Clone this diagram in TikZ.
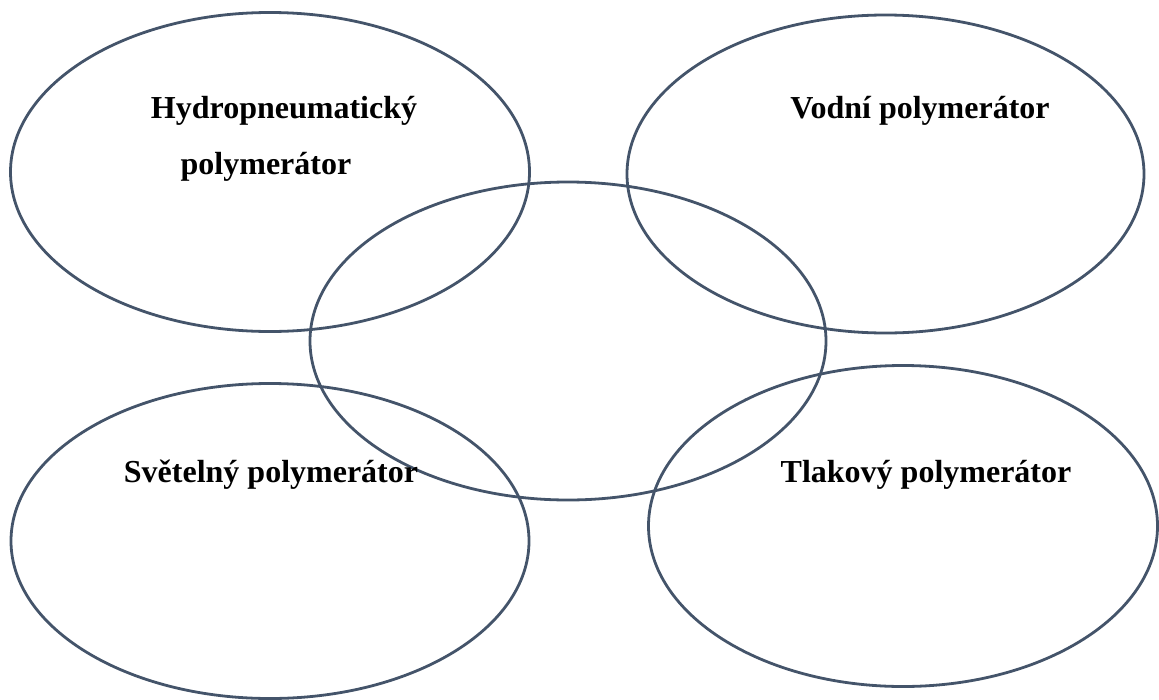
\documentclass[tikz,border=0pt]{standalone}
\usepackage{fontspec}
\setmainfont{Liberation Serif}
\definecolor{ringcol}{HTML}{44546A}
\begin{document}
\begin{tikzpicture}[x=1pt,y=-1pt,
  ring/.style={draw=ringcol,line width=2.8pt},
  lbl/.style={anchor=base,inner sep=0pt,font=\fontsize{32}{38}\selectfont\bfseries,text=black}]
\useasboundingbox (0,0) rectangle (1159,699);
\draw[ring] (270,172) ellipse [x radius=259.5,y radius=159.5];
\draw[ring] (885.5,174) ellipse [x radius=258.5,y radius=159];
\draw[ring] (568,341) ellipse [x radius=258,y radius=159];
\draw[ring] (270,541) ellipse [x radius=259,y radius=157.5];
\draw[ring] (903,526) ellipse [x radius=254.5,y radius=160.5];
\node[lbl] (h1) at (284,118) {Hydropneumatický};
\node[lbl] (h2) at (266,174) {polymerátor};
\node[lbl] (v) at (920,118) {Vodní polymerátor};
\node[lbl] (s) at (271,482) {Světelný polymerátor};
\node[lbl] (t) at (926,482) {Tlakový polymerátor};
\end{tikzpicture}
\end{document}
